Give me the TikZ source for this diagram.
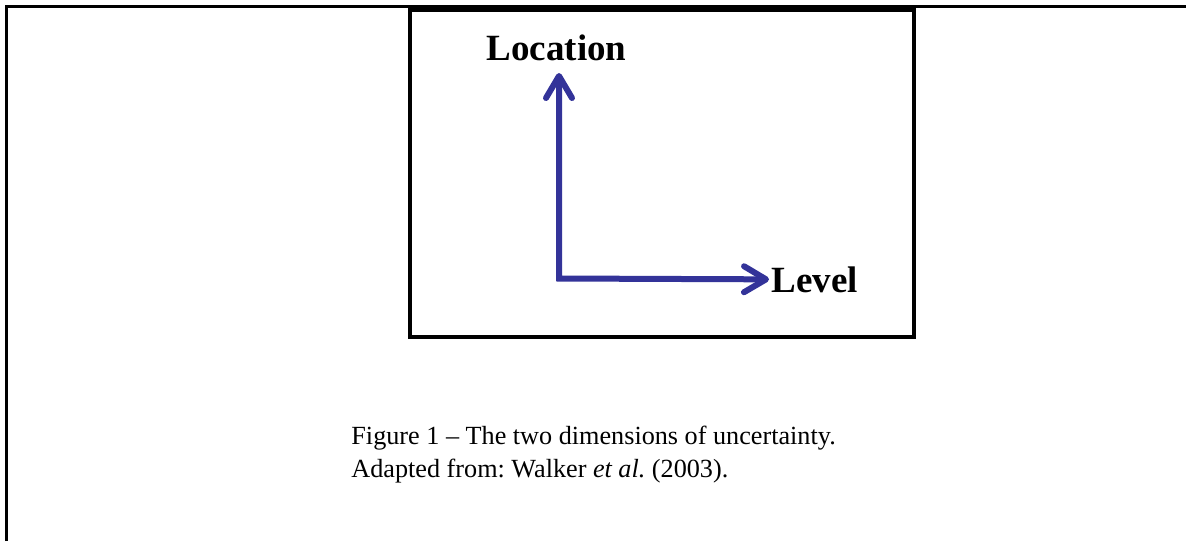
\documentclass[tikz,border=0pt]{standalone}
\usepackage{fontspec}
\setmainfont{Liberation Serif}
\usetikzlibrary{positioning, arrows.meta}
\definecolor{axisblue}{RGB}{51,51,153}
\frenchspacing

\begin{document}
\begin{tikzpicture}[
		x=0.5pt, y=-0.5pt,
		frame/.style={draw, line width=1.4pt},
		panel/.style={draw, line width=2pt},
		lbl/.style={font=\fontsize{18.5}{22}\selectfont\bfseries, inner sep=1pt},
		caption/.style={font=\fontsize{13.1}{16.5}\selectfont, align=left, inner sep=0pt},
		axis/.style={{Straight Barb[length=11pt, width=13pt, round]}-{Straight Barb[length=11pt, width=13pt, round]},
			line width=3pt, color=axisblue, line join=miter}
		]
		\useasboundingbox (0,0) rectangle (1186,541);
		
		% PAGE FRAME
		\draw[frame] (6.5,541) -- (6.5,6.5) -- (1186,6.5);
		
		% FIGURE BOX
		\draw[panel] (409.5,10) rectangle (913.7,337);
		
		% AXIS LABELS
		\node[lbl, anchor=base] (loc) at (556.5,60) {Location};
		\node[lbl, anchor=base west] (lev) at (769,292) {Level};
		\coordinate (orig) at (559,278.5);
		\coordinate (ytip) at (559,73);
		
		% AXES
		\draw[axis] (ytip) -- (orig) -- (lev.west);
		
		% CAPTION
		\node[caption, anchor=base west] (cap) at (351,477) {Figure 1 -- The two dimensions of uncertainty.\\Adapted from: Walker \textit{et al.} (2003).};
		
	\end{tikzpicture}
\end{document}
